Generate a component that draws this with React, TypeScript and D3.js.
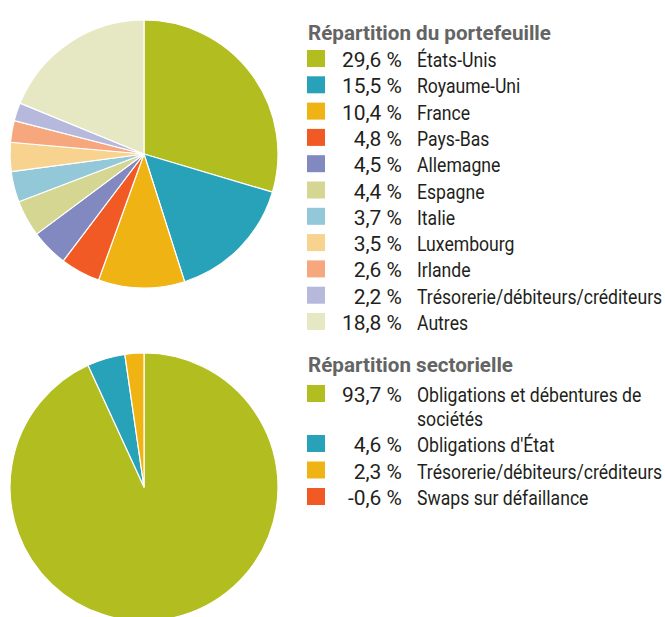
import React from "react";
import * as d3 from "d3";

const geoLabels = ["États-Unis", "Royaume-Uni", "France", "Pays-Bas", "Allemagne", "Espagne", "Italie", "Luxembourg", "Irlande", "Trésorerie/débiteurs/créditeurs", "Autres"];
const geoValues = [29.6, 15.5, 10.4, 4.8, 4.5, 4.4, 3.7, 3.5, 2.6, 2.2, 18.8];
const geoColors = ["#b2bd20", "#27a2b8", "#f0b314", "#f15a24", "#8189c0", "#d4d692", "#92c8d7", "#f8d28f", "#f6a77d", "#b6b8dc", "#e6e8c4"];

const secLabels = [["Obligations et débentures de", "sociétés"], ["Obligations d'État"], ["Trésorerie/débiteurs/créditeurs"], ["Swaps sur défaillance"]];
const secValues = [93.7, 4.6, 2.3, -0.6];
const secColors = ["#b2bd20", "#27a2b8", "#f0b314", "#f15a24"];

const titles = ["Répartition du portefeuille", "Répartition sectorielle"];

const W = 665, H = 617;
const FONT = "Roboto, 'Liberation Sans', sans-serif";
const locale = d3.formatLocale({ decimal: ",", thousands: " ", grouping: [3], currency: ["", " €"], minus: "-" });
const fmt = (v: number) => locale.format(".1f")(v) + " %";

function Pie({ values, colors, cx, cy, r }: { values: number[]; colors: string[]; cx: number; cy: number; r: number }) {
  const data = values.map((v, i) => ({ v: Math.max(0, v), c: colors[i] }));
  const arcs = d3.pie<{ v: number; c: string }>().sort(null).value(d => d.v)(data);
  const arc = d3.arc<d3.PieArcDatum<{ v: number; c: string }>>().innerRadius(0).outerRadius(r);
  return (
    <g transform={`translate(${cx},${cy})`}>
      {arcs.filter(a => a.data.v > 0).map((a, i) => (
        <path key={i} d={arc(a) || ""} fill={a.data.c} stroke="#fff" strokeWidth={1.2} strokeLinejoin="round" />
      ))}
    </g>
  );
}

function Legend({ title, labels, values, colors, x, titleY, firstY, rowH, lineH }: any) {
  let y = firstY;
  const rows: any[] = [];
  (labels as string[][]).forEach((lines, i) => {
    rows.push(
      <g key={i}>
        <rect x={x} y={y - 17} width={18} height={17} fill={colors[i]} />
        <text transform={`translate(${x + 95},${y}) scale(1.04,1)`} textAnchor="end" fontSize={20.2} fill="#231f20" fontFamily={FONT}>{fmt(values[i])}</text>
        {lines.map((l, j) => (
          <text key={j} transform={`translate(${x + 110},${y + j * lineH}) scale(0.89,1)`} fontSize={19.8} fill="#231f20" fontFamily={FONT}>{l}</text>
        ))}
      </g>
    );
    y += rowH + (lines.length - 1) * lineH;
  });
  return (
    <g>
      <text transform={`translate(${x + 1},${titleY}) scale(1.03,1)`} fontSize={20} fontWeight="bold" fill="#646464" fontFamily={FONT}>{title}</text>
      {rows}
    </g>
  );
}

export default function App() {
  return (
    <svg width={W} height={H} style={{ position: "absolute", left: 0, top: 0, background: "#fff" }}>
      <Pie values={geoValues} colors={geoColors} cx={144} cy={154} r={134} />
      <Pie values={secValues} colors={secColors} cx={144} cy={487} r={134} />
      <Legend title={titles[0]} labels={geoLabels.map(l => [l])} values={geoValues} colors={geoColors} x={307} titleY={40} firstY={67} rowH={26.3} lineH={23} />
      <Legend title={titles[1]} labels={secLabels} values={secValues} colors={secColors} x={307} titleY={372} firstY={402} rowH={26.5} lineH={23.5} />
    </svg>
  );
}
